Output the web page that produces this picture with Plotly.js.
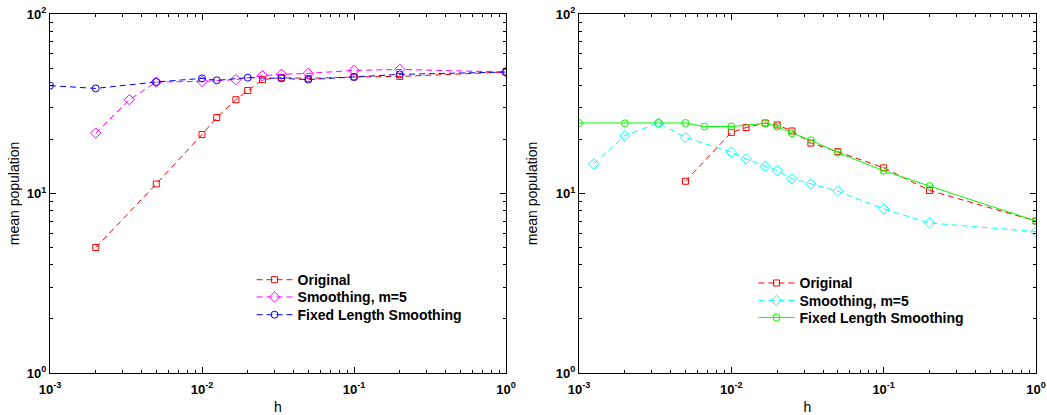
<!DOCTYPE html>
<html><head><meta charset="utf-8">
<script src="https://cdn.plot.ly/plotly-3.0.1.min.js"></script>
<style>html,body{margin:0;padding:0;background:#fff}#chart{width:1047px;height:415px}</style>
</head><body><div id="chart"></div>
<script>
// Left panel
const hOrigL = [0.002,0.005,0.01,0.0125,0.0167,0.02,0.025,0.0333,0.05,0.1,0.2,1];
const origL  = [5.0,11.3,21.3,26.5,33.3,37.5,43.1,44.2,43.8,44.6,44.9,47.5];
const hSmL   = [0.002,0.00333,0.005,0.01,0.0167,0.025,0.0333,0.05,0.1,0.2,1];
const smL    = [21.7,33.3,41.8,42.1,43.1,45.3,46.1,46.7,48.5,49.1,47.5];
const hFixL  = [0.001,0.002,0.005,0.01,0.0125,0.02,0.0333,0.05,0.1,0.2,1];
const fixL   = [39.9,38.5,41.8,43.8,42.7,44.2,43.8,43.1,44.6,46.1,47.5];
// Right panel
const hOrigR = [0.005,0.01,0.0125,0.0167,0.02,0.025,0.0333,0.05,0.1,0.2,1];
const origR  = [11.7,21.9,23.3,24.7,24.1,22.3,19.1,17.1,13.9,10.4,7.03];
const hSmR   = [0.00125,0.002,0.00333,0.005,0.01,0.0125,0.0167,0.02,0.025,0.0333,0.05,0.1,0.2,1];
const smR    = [14.6,21.0,24.7,20.5,17.0,15.6,14.2,13.4,12.1,11.3,10.3,8.2,6.85,6.13];
const hFixR  = [0.001,0.002,0.00333,0.005,0.00667,0.01,0.0167,0.02,0.025,0.0333,0.05,0.1,0.2,1];
const fixR   = [24.7,24.6,24.7,24.7,23.6,23.6,24.6,23.6,21.7,19.8,16.9,13.4,11.0,7.03];

const seriesNames = ['Original','Smoothing, m=5','Fixed Length Smoothing'];
const xTickVals = [0.001,0.01,0.1,1];
const xTickText = ['<b>10<sup>-3</sup></b>','<b>10<sup>-2</sup></b>','<b>10<sup>-1</sup></b>','<b>10<sup>0</sup></b>'];
const yTickVals = [1,10,100];
const yTickText = ['<b>10<sup>0</sup></b>','<b>10<sup>1</sup></b>','<b>10<sup>2</sup></b>'];

const FONT = 'Liberation Sans, Arial, Helvetica, sans-serif';
const DASH = '6px,4px';

function tr(x, y, name, color, symbol, dash, xa, ya, legend, size) {
  return {x, y, name, type:'scatter', mode:'lines+markers', xaxis:xa, yaxis:ya, legend,
    line:{color, width:1, dash},
    marker:{symbol, size, color, line:{color, width:1}}};
}

const data = [
  tr(hOrigL, origL, seriesNames[0], '#ff0000', 'square-open', DASH, 'x', 'y', 'legend', 6),
  tr(hSmL, smL, seriesNames[1], '#ff00ff', 'diamond-open', DASH, 'x', 'y', 'legend2', 8),
  tr(hFixL, fixL, seriesNames[2], '#0000ff', 'circle-open', DASH, 'x', 'y', 'legend3', 7),
  tr(hOrigR, origR, seriesNames[0], '#ff0000', 'square-open', DASH, 'x2', 'y2', 'legend4', 6),
  tr(hSmR, smR, seriesNames[1], '#00ffff', 'diamond-open', DASH, 'x2', 'y2', 'legend5', 8),
  tr(hFixR, fixR, seriesNames[2], '#00ff00', 'circle-open', 'solid', 'x2', 'y2', 'legend6', 7)
];

function minorVals(lo, hi) {
  const v = [];
  for (let e = lo; e < hi; e++) for (let d = 2; d <= 9; d++) v.push(d * Math.pow(10, e));
  return v;
}

function axis(isX, domain, anchor, title, standoff) {
  const a = {
    type:'log', domain, anchor,
    range: isX ? [-3, 0] : [0, 2],
    showline:true, linecolor:'black', linewidth:1, mirror:'ticks',
    ticks:'inside', ticklen:6, tickcolor:'black', tickwidth:1,
    tickvals: isX ? xTickVals : yTickVals,
    ticktext: isX ? xTickText : yTickText,
    tickfont:{family:FONT, size:13, color:'black'},
    ticklabeloverflow:'allow',
    minor:{tickvals: isX ? minorVals(-3,0) : minorVals(0,2), ticks:'inside', ticklen:3, tickcolor:'black', showgrid:false},
    showgrid:false, zeroline:false,
    title:{text:title, font:{family:FONT, size:14, color:'black'}, standoff}
  };
  if (isX) a.ticklabelstandoff = 4;
  return a;
}

function leg(x, y) {
  return {x, y, bgcolor:'rgba(0,0,0,0)', borderwidth:0, xanchor:'left', yanchor:'top',
    itemwidth:36, font:{family:FONT, size:14, color:'black', weight:'bold'}};
}

const layout = {
  width:1047, height:415,
  margin:{l:50, r:11, t:14, b:42},
  paper_bgcolor:'white', plot_bgcolor:'white',
  showlegend:true,
  xaxis: axis(true, [0, 0.4625], 'y', 'h', 6),
  yaxis: axis(false, [0, 1], 'x', 'mean population', 3),
  xaxis2: axis(true, [0.5365, 1], 'y2', 'h', 6),
  yaxis2: axis(false, [0, 1], 'x2', 'mean population', 14),
  legend:  leg(0.2044, 0.3033),
  legend2: leg(0.2044, 0.2552),
  legend3: leg(0.2044, 0.2058),
  legend4: leg(0.7135, 0.2942),
  legend5: leg(0.7135, 0.2457),
  legend6: leg(0.7135, 0.1983)
};

Plotly.newPlot('chart', data, layout, {displayModeBar:false, staticPlot:true});
</script></body></html>
